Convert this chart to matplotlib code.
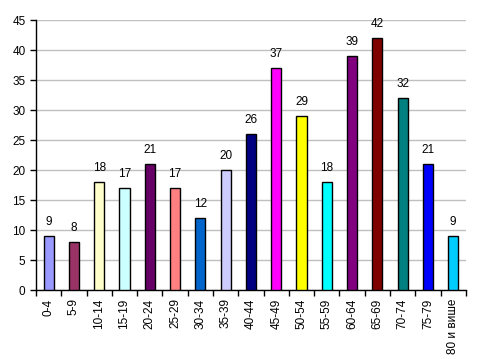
import numpy as np
import matplotlib.pyplot as plt

# age groups and counts
groups = ['0-4', '5-9', '10-14', '15-19', '20-24', '25-29', '30-34', '35-39',
          '40-44', '45-49', '50-54', '55-59', '60-64', '65-69', '70-74', '75-79',
          '80 и више']
counts = [9, 8, 18, 17, 21, 17, 12, 20, 26, 37, 29, 18, 39, 42, 32, 21, 9]
colors = ['#9999FF', '#993366', '#FFFFCC', '#CCFFFF', '#660066', '#FF8080',
          '#0066CC', '#CCCCFF', '#000080', '#FF00FF', '#FFFF00', '#00FFFF',
          '#800080', '#800000', '#008080', '#0000FF', '#00CCFF']

plt.rcParams['font.family'] = ['Liberation Sans', 'DejaVu Sans']

fig = plt.figure(figsize=(4.83, 3.59), dpi=100)
ax = fig.add_axes([0.0745, 0.192, 0.890, 0.752])

x = np.arange(len(groups))
ax.bar(x, counts, width=0.4, color=colors, edgecolor='black', linewidth=1, zorder=3)

for xi, v in zip(x, counts):
    ax.text(xi, v + 1.4, str(v), ha='center', va='bottom', fontsize=8.5)

ax.set_xlim(-0.5, len(groups) - 0.5)
ax.set_ylim(0, 45)
ax.set_yticks(range(0, 46, 5))
ax.yaxis.grid(True, color='#C0C0C0', linewidth=1, zorder=0)

# category labels centered, tick marks between categories
ax.set_xticks(x)
ax.set_xticklabels(groups, rotation=90, fontsize=8.5)
ax.tick_params(axis='x', which='major', length=0, pad=6)
ax.set_xticks(np.arange(-0.5, len(groups), 1), minor=True)
ax.tick_params(axis='x', which='minor', length=4, width=1, direction='out')
ax.tick_params(axis='y', length=4, width=1, direction='out', labelsize=8.5)

for side in ['top', 'right']:
    ax.spines[side].set_visible(False)
ax.spines['left'].set_linewidth(1)
ax.spines['bottom'].set_linewidth(1)

fig.savefig('out.png', dpi=100)
